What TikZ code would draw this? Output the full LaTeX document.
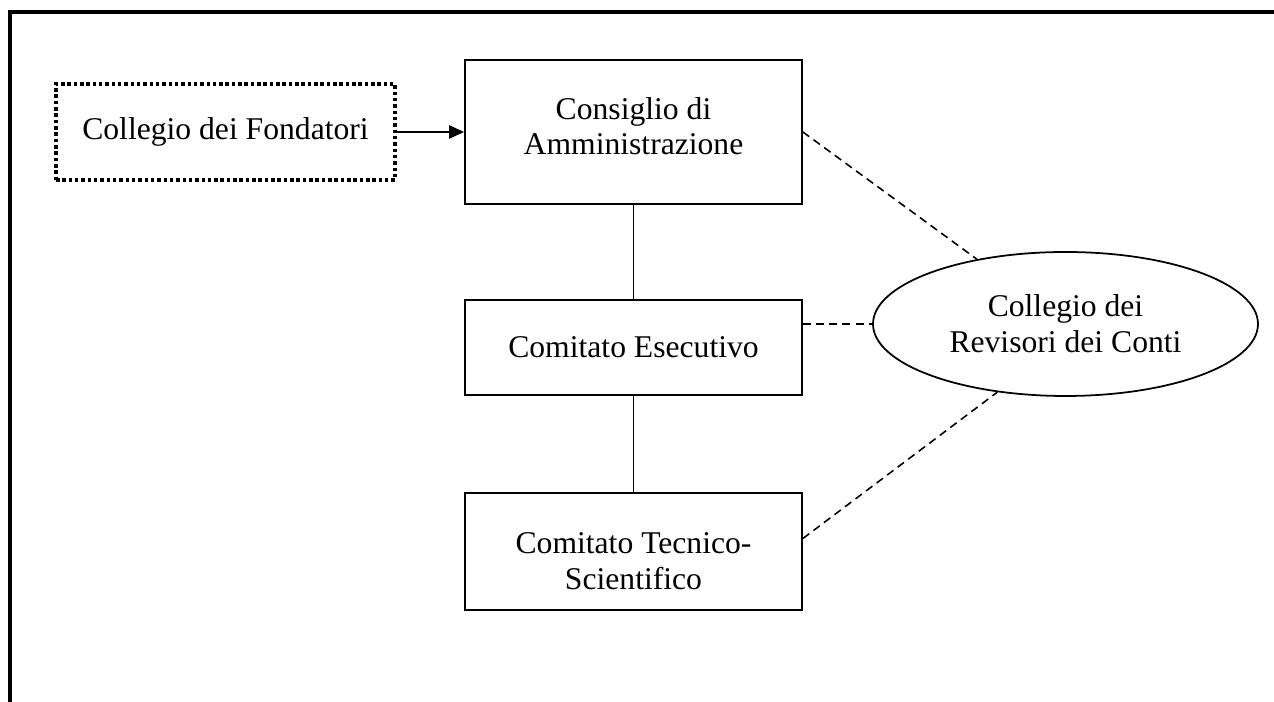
\documentclass[tikz,border=0pt]{standalone}
\usepackage{fontspec}
\setmainfont{Liberation Serif}
\usepackage{tikz}
\usetikzlibrary{arrows.meta,shapes,positioning,calc}

\tikzset{
    organo/.style={draw, line width=1pt, align=center, inner sep=0pt,
        minimum width=6.74cm},
    fondatori/.style={draw, line width=2.2pt, dash pattern=on 2pt off 1.6pt,
        align=center, minimum width=6.78cm, minimum height=1.92cm},
    revisori/.style={draw, ellipse, line width=1pt, align=center, inner sep=0pt,
        minimum width=7.7cm, minimum height=2.88cm},
    tratteggio/.style={line width=0.9pt, dash pattern=on 4.5pt off 3pt}
}

\begin{document}
\begin{tikzpicture}[font=\fontsize{18}{20.4}\selectfont]
    \useasboundingbox (0,0) rectangle (25.48,14.04);

    % Frame
    \draw[line width=1.9pt] (0.2,0) -- (0.2,13.8) -- (25.48,13.8);

    % Organi
    \node[fondatori] (cdf) at (4.51, 11.4) {Collegio dei Fondatori};
    \node[organo, minimum height=2.88cm, text depth=0.24cm] (cda) at (12.67, 11.4) {Consiglio di\\Amministrazione};
    \node[organo, minimum height=1.9cm] (cde) at (12.67, 7.09) {Comitato Esecutivo};
    \node[organo, minimum height=2.34cm] (cts) at (12.67, 3.01) {\rule{0pt}{0.8cm}Comitato Tecnico-\\Scientifico};
    \node[revisori] (crc) at (21.31, 7.56) {Collegio dei\\Revisori dei Conti};

    % Collegamenti
    \draw[-{Triangle[length=8.5pt,width=7.5pt]}, line width=1pt] (cdf.east) -- (cda.west);
    \draw[line width=1pt] (cda.south) -- (cde.north);
    \draw[line width=1pt] (cde.south) -- (cts.north);

    % Revisori
    \draw[tratteggio] (cda.east) -- (crc);
    \draw[tratteggio] (crc.west -| cde.east) -- (crc.west);
    \draw[tratteggio] ([yshift=0.26cm]cts.east) -- (crc.225);
\end{tikzpicture}
\end{document}
